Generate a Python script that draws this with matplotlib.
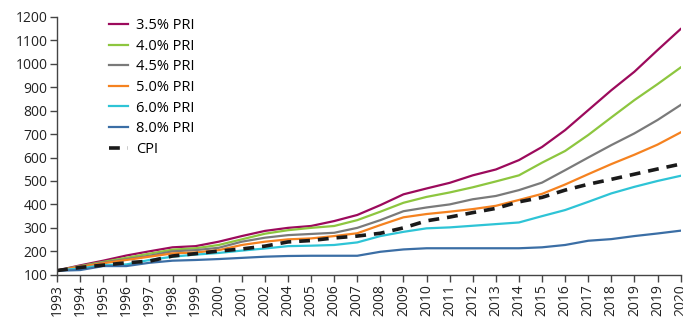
import numpy as np
import matplotlib
matplotlib.use("Agg")
import matplotlib.pyplot as plt

plt.rcParams['font.family'] = ['Open Sans', 'DejaVu Sans']

years = ["1993", "1994", "1995", "1996", "1997", "1998", "1999", "2000", "2001",
         "2002", "2004", "2005", "2006", "2007", "2008", "2009", "2010", "2011",
         "2012", "2013", "2014", "2015", "2016", "2017", "2018", "2019", "2019", "2020"]

pri_35 = [118, 140, 160, 182, 200, 217, 222, 241, 265, 287, 300, 308, 329, 355,
          397, 443, 468, 492, 524, 549, 589, 645, 717, 802, 887, 966, 1058, 1148]
pri_40 = [118, 137, 155, 172, 190, 207, 213, 227, 251, 275, 290, 300, 308, 333,
          369, 407, 432, 451, 473, 498, 524, 578, 628, 696, 771, 845, 913, 984]
pri_45 = [118, 135, 152, 166, 181, 200, 205, 215, 241, 258, 269, 274, 279, 300,
          333, 371, 387, 400, 422, 436, 461, 493, 546, 600, 653, 703, 760, 824]
pri_50 = [118, 134, 149, 163, 177, 191, 195, 205, 227, 241, 251, 255, 265, 277,
          312, 345, 359, 369, 380, 394, 419, 445, 485, 529, 572, 612, 655, 707]
pri_60 = [118, 127, 141, 144, 163, 177, 186, 193, 203, 212, 222, 224, 227, 238,
          265, 283, 298, 302, 309, 316, 323, 350, 376, 411, 447, 475, 500, 522]
pri_80 = [117, 120, 137, 137, 151, 160, 163, 167, 172, 177, 180, 181, 181, 181,
          198, 208, 213, 213, 213, 213, 213, 217, 227, 245, 252, 265, 276, 288]
cpi = [118, 131, 141, 151, 158, 180, 190, 201, 210, 222, 240, 246, 257, 265,
       277, 300, 330, 346, 365, 383, 411, 430, 461, 486, 507, 529, 551, 572]

series = [
    ("3.5% PRI", pri_35, "#9c0a5c"),
    ("4.0% PRI", pri_40, "#8dc63f"),
    ("4.5% PRI", pri_45, "#7a7a7a"),
    ("5.0% PRI", pri_50, "#f58220"),
    ("6.0% PRI", pri_60, "#2ec4d6"),
    ("8.0% PRI", pri_80, "#3b6ea5"),
]

fig = plt.figure(figsize=(6.83, 3.24), dpi=100)
ax = fig.add_axes([0.0835, 0.152, 0.913, 0.796])

x = np.arange(len(years))
for name, vals, col in series:
    ax.plot(x, vals, color=col, lw=1.6, label=name)
ax.plot(x, cpi, color="#1a1a1a", lw=2.6, dashes=(3, 2.2), label="CPI")

ax.set_xlim(0, len(years) - 1)
ax.set_ylim(100, 1200)
ax.set_yticks(range(100, 1201, 100))
ax.set_xticks(x)
ax.set_xticklabels(years, rotation=90)

for s in ["top", "right"]:
    ax.spines[s].set_visible(False)
for s in ["left", "bottom"]:
    ax.spines[s].set_color("#444444")
    ax.spines[s].set_linewidth(1.0)
ax.tick_params(axis="both", colors="#444444", labelcolor="#222222",
               labelsize=10, length=5, width=1.0, pad=2)

# legend sits inside the empty upper-left area of the plot
ax.legend(loc="upper left", bbox_to_anchor=(0.062, 1.045), frameon=False,
          fontsize=10.5, handlelength=1.3, handletextpad=0.55, labelspacing=0.38)

fig.savefig("out.png", dpi=100)
